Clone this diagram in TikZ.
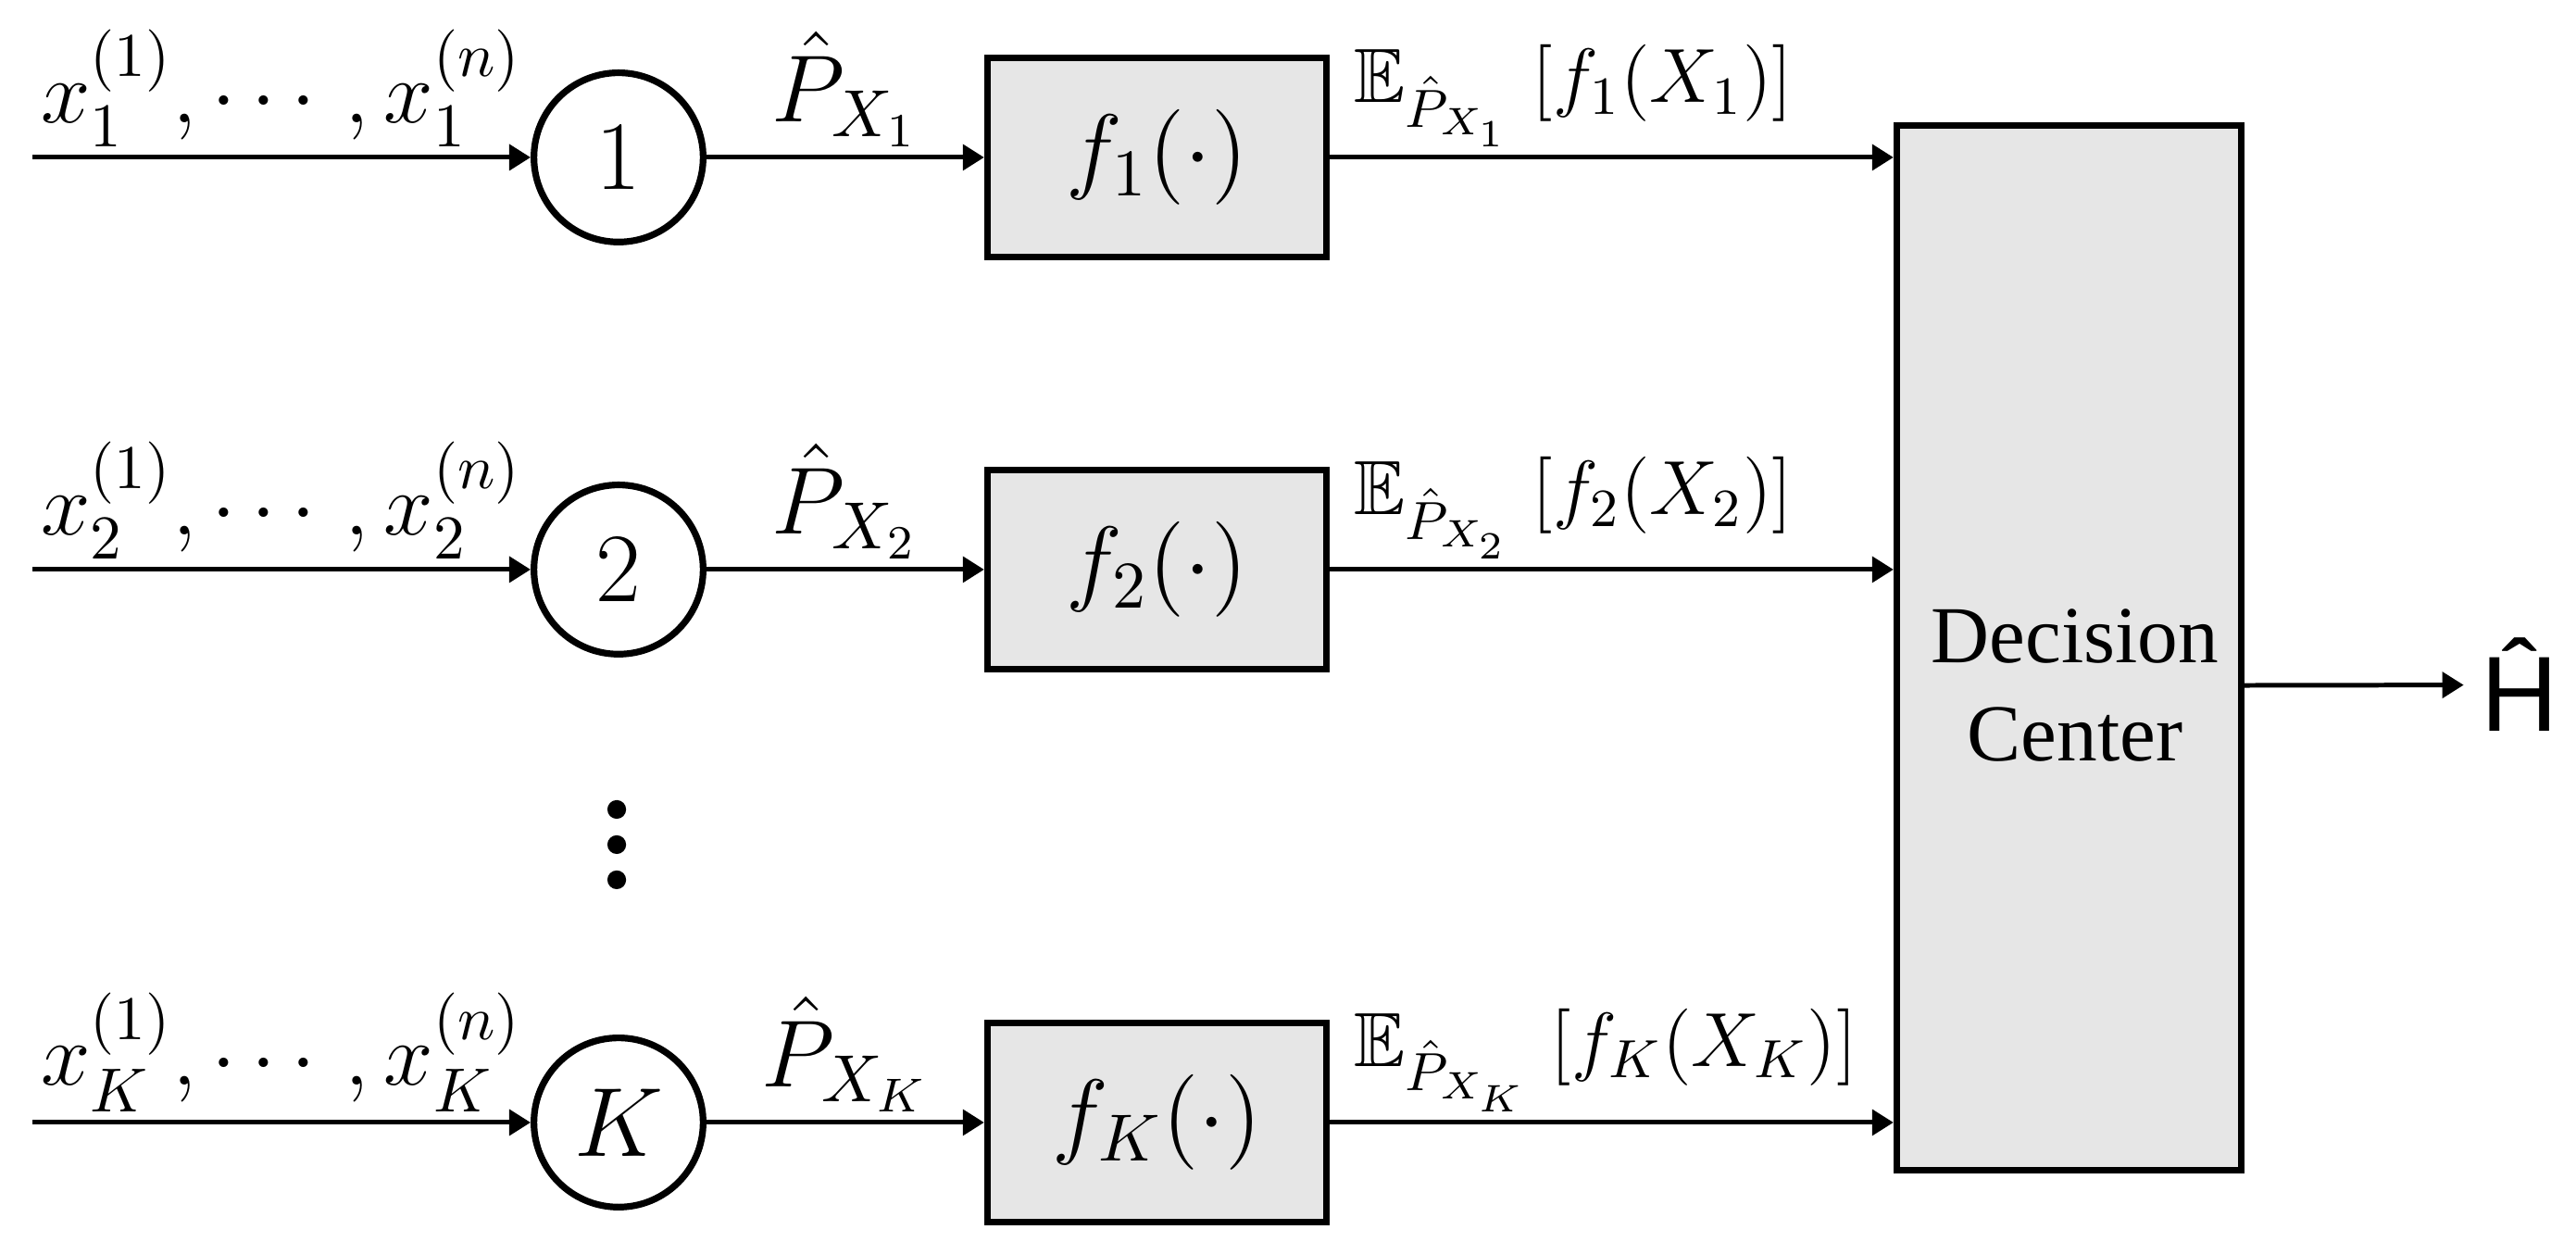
\documentclass[tikz,border=0pt]{standalone}
\usepackage{fix-cm}
\usepackage{fontspec}
\usepackage{amsmath, amssymb}
\usepackage{tikz}
\usetikzlibrary{positioning, arrows.meta}
\newfontfamily\dcfont{Liberation Serif}
\newfontfamily\hfont{Liberation Sans}
\definecolor{boxgray}{RGB}{230,230,230}

\begin{document}
\begin{tikzpicture}[
        >={Triangle[length=0.13cm, width=0.155cm]},
        arr/.style={->, line width=0.8pt},
        src/.style={circle, draw, line width=1.15pt, minimum size=1.03cm, inner sep=0pt, font=\fontsize{17}{20}\selectfont},
        fnbox/.style={rectangle, draw, fill=boxgray, line width=1.15pt, minimum width=2.063cm, minimum height=1.212cm, font=\fontsize{16.5}{20}\selectfont},
        dcbox/.style={rectangle, draw, fill=boxgray, line width=1.15pt, minimum width=2.097cm, minimum height=6.357cm},
        dctext/.style={align=center, inner sep=0pt, font=\dcfont\fontsize{14}{17}\selectfont},
        inlab/.style={inner sep=1.5pt, font=\fontsize{15.4}{18}\selectfont},
        plab/.style={inner sep=1.5pt, font=\fontsize{16.5}{19}\selectfont},
        elab/.style={inner sep=1.5pt, xshift=0.08cm, font=\fontsize{13.3}{16}\selectfont},
        hlab/.style={inner sep=0.1cm, font=\hfont\fontsize{18.5}{22}\selectfont}
    ]
        \useasboundingbox (0,0) rectangle (15.68,7.558);
        % Nodes
        \coordinate (in1) at (0.2,6.6);
        \coordinate (in2) at (0.2,4.092);
        \coordinate (inK) at (0.2,0.727);
        \node[src] (c1) at (3.765,6.6) {$1$};
        \node[src] (c2) at (3.765,4.092) {$2$};
        \node[src] (cK) at (3.765,0.727) {$K$};
        \node[fnbox] (f1) at (7.042,6.6) {$f_1(\cdot)$};
        \node[fnbox] (f2) at (7.042,4.092) {$f_2(\cdot)$};
        \node[fnbox] (fK) at (7.042,0.727) {$f_K(\cdot)$};
        \node[dcbox] (dc) at (12.594,3.616) {};
        \node[dctext] (dct) at (12.63,3.387) {Decision\\Center};
        \node[hlab] (H) at (15.338,3.39) {Ĥ};

        % Dots
        \foreach \y in {2.632,2.418,2.204}
            \fill (3.754,\y) circle (0.057);

        % Edges
        \draw[arr] (in1) -- (c1) node[midway, above, inlab] {$x_1^{(1)},\cdots,x_1^{(n)}$};
        \draw[arr] (in2) -- (c2) node[midway, above, inlab] {$x_2^{(1)},\cdots,x_2^{(n)}$};
        \draw[arr] (inK) -- (cK) node[midway, above, inlab] {$x_K^{(1)},\cdots,x_K^{(n)}$};
        \draw[arr] (c1) -- (f1) node[midway, above, plab] {$\hat{P}_{X_1}$};
        \draw[arr] (c2) -- (f2) node[midway, above, plab] {$\hat{P}_{X_2}$};
        \draw[arr] (cK) -- (fK) node[midway, above, plab] {$\hat{P}_{X_K}$};
        \draw[arr] (f1) -- (f1 -| dc.west) node[pos=0, above right, elab] {$\mathbb{E}_{\hat{P}_{X_1}}\;[f_1(X_1)]$};
        \draw[arr] (f2) -- (f2 -| dc.west) node[pos=0, above right, elab] {$\mathbb{E}_{\hat{P}_{X_2}}\;[f_2(X_2)]$};
        \draw[arr] (fK) -- (fK -| dc.west) node[pos=0, above right, elab] {$\mathbb{E}_{\hat{P}_{X_K}}\;[f_K(X_K)]$};
        \draw[arr] (dct -| dc.east) -- (H);
    \end{tikzpicture}
\end{document}
